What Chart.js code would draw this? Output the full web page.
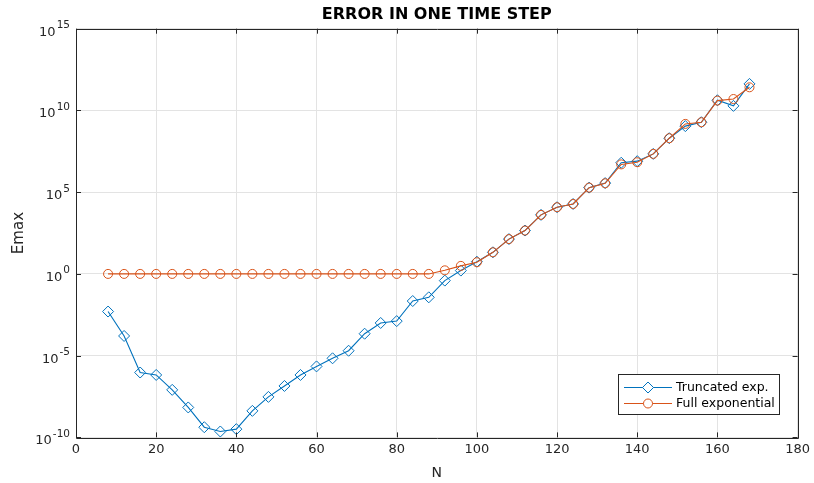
<!DOCTYPE html>
<html>
<head>
<meta charset="utf-8">
<script src="https://cdn.jsdelivr.net/npm/chart.js@4"></script>
<style>
  html, body { margin: 0; padding: 0; background: #fff; }
  #wrap { width: 814px; height: 483px; }
</style>
</head>
<body>
<div id="wrap"><canvas id="chart" width="814" height="483"></canvas></div>
<script>
"use strict";

// N values (time step count)
const nValues = [8, 12, 16, 20, 24, 28, 32, 36, 40, 44, 48, 52, 56, 60, 64, 68, 72, 76, 80, 84,
                 88, 92, 96, 100, 104, 108, 112, 116, 120, 124, 128, 132, 136, 140, 144, 148,
                 152, 156, 160, 164, 168];

// max error, truncated exponential
const truncErr = [5.0e-3, 1.6e-4, 9.3e-7, 6.6e-7, 8.1e-8, 6.8e-9, 4.2e-10, 2.3e-10, 3.2e-10, 4.2e-9,
                  3.0e-8, 1.4e-7, 6.6e-7, 2.2e-6, 6.9e-6, 2.0e-5, 2.2e-4, 1.0e-3, 1.3e-3, 2.2e-2,
                  3.7e-2, 0.39, 1.6, 5.6, 21, 135, 450, 4.1e3, 1.2e4, 1.9e4,
                  1.9e5, 3.6e5, 6.3e6, 7.9e6, 2.2e7, 2.0e8, 1.1e9, 1.9e9, 4.2e10, 1.9e10,
                  4.2e11];

// max error, full exponential
const fullErr = [1, 1, 1, 1, 1, 1, 1, 1, 1, 1,
                 1, 1, 1, 1, 1, 1, 1, 1, 1, 1,
                 1, 1.66, 3.1, 5.2, 21, 135, 450, 4.1e3, 1.2e4, 1.9e4,
                 1.9e5, 3.5e5, 5.0e6, 6.8e6, 2.2e7, 2.0e8, 1.5e9, 1.9e9, 4.0e10, 5.0e10,
                 2.6e11];

const xTicks = [0, 20, 40, 60, 80, 100, 120, 140, 160, 180];
const yTickExp = [-10, -5, 0, 5, 10, 15];

const titleText = "ERROR IN ONE TIME STEP";
const seriesNames = ["Truncated exp.", "Full exponential"];
const blue = "#0072BD";
const orange = "#D95319";
const axisColor = "#262626";
const FONT = "'DejaVu Sans', sans-serif";

// title over the axes, box, inward ticks, superscript y labels and legend (matlab style)
const axesDecor = {
    id: "axesDecor",
    afterDraw(chart) {
        const ctx = chart.ctx;
        const a = chart.chartArea;
        const xs = chart.scales.x;
        const ys = chart.scales.y;
        const tl = 5;
        ctx.save();

        ctx.fillStyle = "#000";
        ctx.font = "bold 16px " + FONT;
        ctx.textAlign = "center";
        ctx.textBaseline = "middle";
        ctx.fillText(titleText, (a.left + a.right) / 2, 15);

        ctx.strokeStyle = axisColor;
        ctx.lineWidth = 1;
        ctx.beginPath();
        ctx.rect(Math.round(a.left) + 0.5, Math.round(a.top) + 0.5,
                 Math.round(a.right - a.left), Math.round(a.bottom - a.top));
        ctx.stroke();

        ctx.beginPath();
        xs.ticks.forEach(function (t) {
            const px = Math.round(xs.getPixelForValue(t.value)) + 0.5;
            ctx.moveTo(px, a.bottom); ctx.lineTo(px, a.bottom - tl);
            ctx.moveTo(px, a.top); ctx.lineTo(px, a.top + tl);
        });
        ys.ticks.forEach(function (t) {
            const py = Math.round(ys.getPixelForValue(t.value)) + 0.5;
            ctx.moveTo(a.left, py); ctx.lineTo(a.left + tl, py);
            ctx.moveTo(a.right, py); ctx.lineTo(a.right - tl, py);
        });
        ctx.stroke();

        // y labels: 10 with raised exponent, right aligned
        ctx.fillStyle = axisColor;
        ctx.textBaseline = "alphabetic";
        ys.ticks.forEach(function (t) {
            const py = ys.getPixelForValue(t.value);
            const ex = String(Math.round(Math.log10(t.value)));
            const right = a.left - 6;
            ctx.font = "10.5px " + FONT;
            const ew = ctx.measureText(ex).width + 1;
            ctx.textAlign = "left";
            ctx.fillText(ex, right - ew + 1, py - 0.5);
            ctx.font = "13px " + FONT;
            ctx.textAlign = "right";
            ctx.fillText("10", right - ew, py + 7);
        });

        // legend
        const lx = 618, ly = 374, lw = 161, lh = 40;
        ctx.fillStyle = "#fff";
        ctx.fillRect(lx, ly, lw, lh);
        ctx.strokeStyle = axisColor;
        ctx.strokeRect(lx + 0.5, ly + 0.5, lw, lh);
        ctx.font = "12.5px " + FONT;
        ctx.textAlign = "left";
        ctx.textBaseline = "middle";
        chart.data.datasets.forEach(function (ds, i) {
            const ry = ly + 13.5 + i * 16;
            ctx.strokeStyle = ds.borderColor;
            ctx.lineWidth = 1;
            ctx.beginPath();
            ctx.moveTo(lx + 6, ry); ctx.lineTo(lx + 54, ry);
            ctx.stroke();
            ctx.fillStyle = "#fff";
            Chart.helpers.drawPoint(ctx, {
                pointStyle: ds.pointStyle,
                radius: ds.pointRadius,
                borderWidth: 1
            }, lx + 30, ry);
            ctx.fillStyle = "#000";
            ctx.fillText(ds.label, lx + 58, ry + 0.5);
        });
        ctx.restore();
    }
};

const chart = new Chart(document.getElementById("chart"), {
    type: "line",
    data: {
        datasets: [
            {
                label: seriesNames[0],
                data: nValues.map((n, i) => ({ x: n, y: truncErr[i] })),
                borderColor: blue,
                borderWidth: 1.1,
                pointStyle: "rectRot",
                pointRadius: 5.5,
                pointBorderColor: blue,
                pointBackgroundColor: "rgba(0,0,0,0)",
                pointBorderWidth: 1,
                tension: 0,
                order: 2
            },
            {
                label: seriesNames[1],
                data: nValues.map((n, i) => ({ x: n, y: fullErr[i] })),
                borderColor: orange,
                borderWidth: 1.1,
                pointStyle: "circle",
                pointRadius: 4.5,
                pointBorderColor: orange,
                pointBackgroundColor: "rgba(0,0,0,0)",
                pointBorderWidth: 1,
                tension: 0,
                order: 1
            }
        ]
    },
    options: {
        responsive: false,
        animation: false,
        events: [],
        layout: { padding: { right: 13, left: 0, bottom: 0, top: 28.7 } },
        plugins: {
            legend: { display: false },
            tooltip: { enabled: false },
            title: { display: false }
        },
        scales: {
            x: {
                type: "linear",
                min: 0,
                max: 180,
                afterBuildTicks(scale) {
                    scale.ticks = xTicks.map(v => ({ value: v }));
                },
                afterFit(scale) { scale.height = 45.6; },
                ticks: {
                    color: axisColor,
                    font: { family: FONT, size: 13 },
                    padding: 4,
                    maxRotation: 0
                },
                grid: { color: "#e3e3e3", drawTicks: false, lineWidth: 1 },
                border: { display: false },
                title: {
                    display: true,
                    text: "N",
                    color: axisColor,
                    font: { family: FONT, size: 14 },
                    padding: { top: 0, bottom: 1 }
                }
            },
            y: {
                type: "logarithmic",
                min: 1e-10,
                max: 1e15,
                afterBuildTicks(scale) {
                    scale.ticks = yTickExp.map(e => ({ value: Math.pow(10, e) }));
                },
                afterFit(scale) { scale.width = 76; },
                ticks: { display: false },
                grid: { color: "#e3e3e3", drawTicks: false, lineWidth: 1 },
                border: { display: false },
                title: {
                    display: true,
                    text: "Emax",
                    color: axisColor,
                    font: { family: FONT, size: 15 },
                    padding: { top: 10, bottom: 0 }
                }
            }
        }
    },
    plugins: [axesDecor]
});
</script>
</body>
</html>
